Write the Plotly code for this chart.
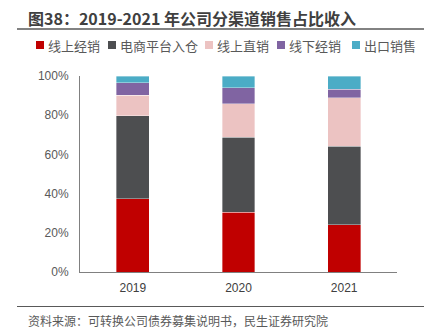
import plotly.graph_objects as go

years = ["2019", "2020", "2021"]
series_names = ["线上经销", "电商平台入仓", "线上直销", "线下经销", "出口销售"]
online_dist = [37.4, 30.6, 24.0]
ecommerce = [42.2, 38.1, 40.1]
online_direct = [10.6, 17.2, 24.8]
offline_dist = [6.4, 8.1, 4.3]
export = [3.4, 6.0, 6.8]
colors = ["#C00000", "#4D4E50", "#ECC3C2", "#8064A2", "#4BACC6"]
yticks = [0, 20, 40, 60, 80, 100]
ytick_labels = ["0%", "20%", "40%", "60%", "80%", "100%"]
title_text = "图38：2019-2021 年公司分渠道销售占比收入"
source_text = "资料来源：可转换公司债券募集说明书，民生证券研究院"

W, H = 426, 330
L, R, T, B = 80, 29, 76, 58
pw, ph = W - L - R, H - T - B

def px(x):
    return (x - L) / pw

def py(y):
    return (H - B - y) / ph

fig = go.Figure()
for name, vals, col in zip(series_names,
                           [online_dist, ecommerce, online_direct, offline_dist, export],
                           colors):
    fig.add_trace(go.Bar(x=years, y=vals, name=name, marker_color=col,
                         marker_line=dict(color="rgba(255,255,255,0.6)", width=0.6),
                         showlegend=False))

cjk = "Noto Sans CJK SC"
annotations = [
    dict(text="<b>" + title_text + "</b>", x=px(26), y=py(18), xref="paper", yref="paper",
         xanchor="left", yanchor="middle", showarrow=False,
         font=dict(family=cjk, size=16, color="#404040")),
    dict(text=source_text, x=px(26), y=py(320), xref="paper", yref="paper",
         xanchor="left", yanchor="middle", showarrow=False,
         font=dict(family=cjk, size=12, color="#595959")),
]
shapes = [
    dict(type="line", xref="paper", yref="paper", x0=px(17), x1=px(424), y0=py(29), y1=py(29),
         line=dict(color="#595959", width=1.5)),
    dict(type="line", xref="paper", yref="paper", x0=px(17), x1=px(424), y0=py(306.5), y1=py(306.5),
         line=dict(color="#595959", width=1.2)),
]
# legend
leg_x = [36, 108, 205, 277, 352]
for lx, name, col in zip(leg_x, series_names, colors):
    shapes.append(dict(type="rect", xref="paper", yref="paper",
                       x0=px(lx), x1=px(lx + 8), y0=py(41), y1=py(49),
                       fillcolor=col, line=dict(width=0)))
    annotations.append(dict(text=name, x=px(lx + 10), y=py(45), xref="paper", yref="paper",
                            xanchor="left", yanchor="middle", showarrow=False,
                            font=dict(family=cjk, size=13, color="#595959")))

fig.update_layout(
    width=W, height=H, margin=dict(l=L, r=R, t=T, b=B),
    barmode="stack", bargap=0.69,
    plot_bgcolor="white", paper_bgcolor="white",
    annotations=annotations, shapes=shapes,
    font=dict(family="Liberation Sans, Arial", size=12, color="#404040"),
)
fig.update_xaxes(showline=True, linecolor="#808080", linewidth=1, ticks="",
                 tickfont=dict(size=12, color="#404040"), showgrid=False,
                 ticklabelstandoff=5)
fig.update_yaxes(range=[0, 100], tickvals=yticks, ticktext=ytick_labels,
                 showline=True, linecolor="#808080", linewidth=1, ticks="",
                 showgrid=False, zeroline=False, ticklabelstandoff=8,
                 tickfont=dict(size=12, color="#595959"))
fig.write_html("out.html")
